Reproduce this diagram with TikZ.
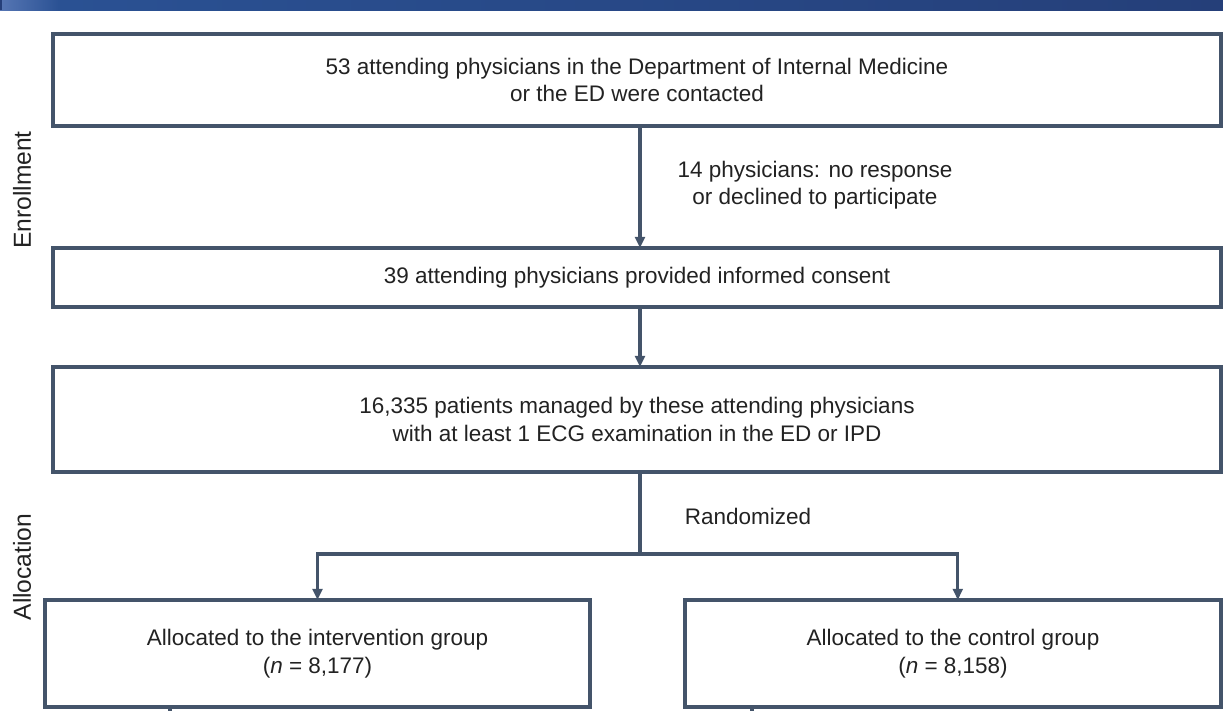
\documentclass[tikz,border=0pt]{standalone}
\usepackage{fontspec}
\setmainfont{Liberation Sans}
\usetikzlibrary{arrows.meta,positioning}

\definecolor{frame}{HTML}{44546A}
\definecolor{ink}{HTML}{222222}
\definecolor{bannerlight}{HTML}{5676B4}
\definecolor{bannermid}{HTML}{2A5193}
\definecolor{bannerdark}{HTML}{253F79}

\tikzset{
  stage/.style={draw=frame, line width=2.4pt, inner sep=0pt, outer sep=0pt,
    align=center, text=ink, font=\fontsize{16}{19.5}\selectfont},
  flow/.style={draw=frame, line width=2.2pt, -{Triangle[length=8pt,width=7pt]}},
  stub/.style={draw=frame, line width=2.2pt},
  note/.style={text=ink, align=center, font=\fontsize{16}{19.5}\selectfont},
  phase/.style={rotate=90, text=ink, font=\fontsize{17.5}{20}\selectfont}
}

\begin{document}
\begin{tikzpicture}
  \useasboundingbox (0,0) rectangle (30.575,-17.75);
  % banner along the top edge
  \shade[left color=bannerlight, right color=bannermid] (0,0) rectangle (1.5,-0.25);
  \shade[left color=bannermid, right color=bannerdark] (1.5,0) rectangle (30.575,-0.25);
  \fill[bannerdark] (0,0) rectangle (0.05,-0.25);

  % enrollment
  \node[stage, minimum width=29.2cm, minimum height=2.3cm] (contacted) at (15.925,-2.0)
    {53 attending physicians in the Department of Internal Medicine\\or the ED were contacted};
  \node[stage, minimum width=29.2cm, minimum height=1.475cm] (consent) at (15.925,-6.9375)
    {39 attending physicians provided informed consent};
  \node[stage, minimum width=29.2cm, minimum height=2.625cm] (patients) at (15.925,-10.4875)
    {16,335 patients managed by these attending physicians\\with at least 1 ECG examination in the ED or IPD};

  % allocation
  \node[stage, minimum width=13.625cm, minimum height=2.675cm] (intervention) at (7.9375,-16.3375)
    {Allocated to the intervention group\\(\textit{n} = 8,177)};
  \node[stage, minimum width=13.4cm, minimum height=2.675cm] (control) at (23.825,-16.3375)
    {Allocated to the control group\\(\textit{n} = 8,158)};

  \node[phase] (enroll) at (0.55,-4.75) {Enrollment};
  \node[phase] (alloc) at (0.55,-14.175) {Allocation};

  \coordinate (split) at (16.0,-13.85);
  \draw[flow] (contacted.south -| split) -- (consent.north -| split);
  \node[note] (declined) at (20.375,-4.625) {14 physicians: no response\\or declined to participate};
  \draw[flow] (consent.south -| split) -- (patients.north -| split);

  \draw[stub] (patients.south -| split) -- (split);
  \node[note, anchor=west] (random) at (17.0,-12.9) {Randomized};
  \draw[flow] (split) -| (intervention);
  \draw[flow] (split) -| ([xshift=0.12cm]control.north);

  % lines running on below the groups
  \coordinate (introut) at (4.25,-17.8);
  \coordinate (ctrlout) at (18.8,-17.8);
  \draw[stub] (intervention.south -| introut) -- (introut);
  \draw[stub] (control.south -| ctrlout) -- (ctrlout);
\end{tikzpicture}
\end{document}
